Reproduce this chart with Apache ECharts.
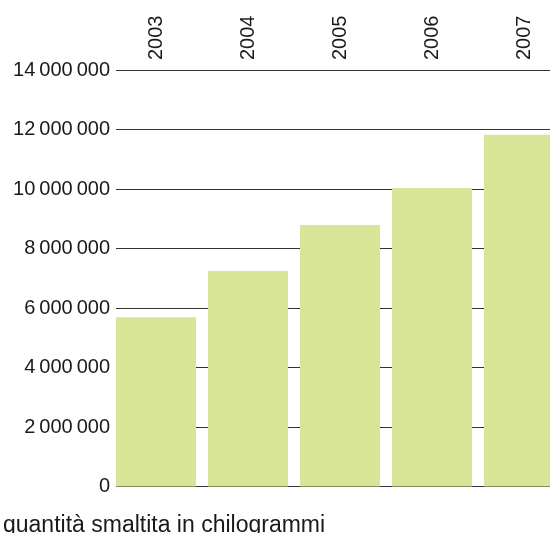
<!DOCTYPE html>
<html>
<head>
<meta charset="utf-8">
<script src="https://cdn.jsdelivr.net/npm/echarts@6/dist/echarts.min.js"></script>
<style>
  html, body { margin: 0; padding: 0; background: #fff; }
  #chart { width: 550px; height: 533px; }
</style>
</head>
<body>
<div id="chart"></div>
<script>
// anni (asse in alto) e quantità smaltita in kg
const years = ['2003', '2004', '2005', '2006', '2007'];
const quantities = [5690000, 7240000, 8790000, 10030000, 11820000];
const yTicks = { min: 0, max: 14000000, interval: 2000000 };

const FONT = 'Liberation Sans, Arial, sans-serif';

const chart = echarts.init(document.getElementById('chart'));

// separatore delle migliaia: spazio sottile
function fmt(v) {
  return String(v).replace(/\B(?=(\d{3})+(?!\d))/g, '\u2009');
}

const option = {
  animation: false,
  title: {
    text: 'quantità smaltita in chilogrammi',
    left: -2,
    top: 509,
    textStyle: {
      fontFamily: FONT,
      fontSize: 23,
      fontWeight: 'normal',
      color: '#1a1a1a'
    }
  },
  // grid 0: etichette e linee dell'asse y; grid 1: barre (allineate a sinistra)
  grid: [
    { left: 116, top: 70, width: 500, height: 416.5, outerBoundsMode: 'none' },
    { left: 110, top: 70, width: 460, height: 416.5, outerBoundsMode: 'none' }
  ],
  xAxis: [
    {
      gridIndex: 0,
      type: 'category',
      data: years,
      show: false
    },
    {
      gridIndex: 1,
      type: 'category',
      position: 'top',
      data: years,
      axisLine: { show: false },
      axisTick: { show: false },
      axisLabel: {
        rotate: 90,
        margin: 10,
        fontFamily: FONT,
        fontSize: 20,
        color: '#1a1a1a'
      }
    }
  ],
  yAxis: [
    {
      gridIndex: 0,
      type: 'value',
      min: yTicks.min,
      max: yTicks.max,
      interval: yTicks.interval,
      axisLine: { show: false },
      axisTick: { show: false },
      axisLabel: {
        margin: 6,
        formatter: fmt,
        fontFamily: FONT,
        fontSize: 20,
        color: '#1a1a1a'
      },
      splitLine: {
        show: true,
        lineStyle: { color: '#333', width: 1 }
      }
    },
    {
      gridIndex: 1,
      type: 'value',
      min: yTicks.min,
      max: yTicks.max,
      interval: yTicks.interval,
      show: false,
      splitLine: { show: false }
    }
  ],
  series: [{
    type: 'bar',
    xAxisIndex: 1,
    yAxisIndex: 1,
    data: quantities,
    barWidth: 80,
    itemStyle: { color: '#d8e496' }
  }]
};

chart.setOption(option);
</script>
</body>
</html>
